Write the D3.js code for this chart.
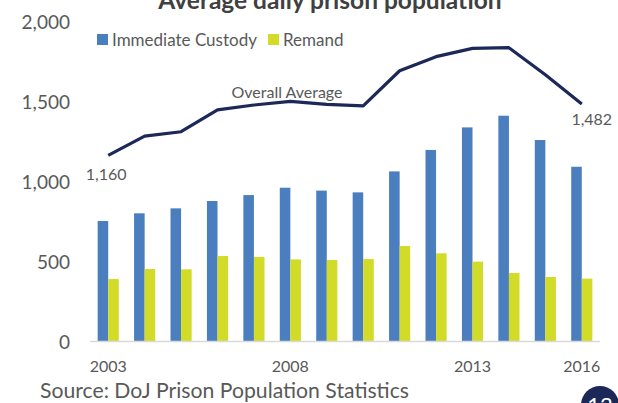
<!DOCTYPE html>
<html><head><meta charset="utf-8">
<script src="https://cdn.jsdelivr.net/npm/d3@7"></script>
<style>
html,body{margin:0;padding:0;background:#fff;}
svg{display:block;font-family:Lato,"Open Sans",sans-serif;}
</style></head>
<body>
<svg id="chart" width="618" height="403"></svg>
<script>
const years = [2003,2004,2005,2006,2007,2008,2009,2010,2011,2012,2013,2014,2015,2016];
const custody = [750,798,829,875,912,958,940,929,1060,1194,1335,1408,1256,1089];
const remand = [387,450,448,531,525,510,506,512,594,548,496,425,400,390];
const overall = [1160,1281,1308,1444,1475,1498,1479,1469,1689,1777,1829,1833,1664,1482];
const yTicks = [0,500,1000,1500,2000];
const xTickYears = [2003,2008,2013,2016];
const seriesNames = ["Immediate Custody","Remand"];
const colors = {custody:"#4a7ebf", remand:"#d2dc28", line:"#1c2858", text:"#595959"};

const svg = d3.select("#chart");
const x = d3.scaleBand().domain(years).range([90,600]).paddingInner(0.42).paddingOuter(0.21);
const xs = d3.scaleBand().domain(["c","r"]).range([0,x.bandwidth()]);
const y = d3.scaleLinear().domain([0,2000]).range([341,21]);

// bars
const g = svg.append("g");
years.forEach((yr,i)=>{
  g.append("rect").attr("x",x(yr)+xs("c")).attr("y",y(custody[i]))
   .attr("width",xs.bandwidth()).attr("height",y(0)-y(custody[i])).attr("fill",colors.custody);
  g.append("rect").attr("x",x(yr)+xs("r")).attr("y",y(remand[i]))
   .attr("width",xs.bandwidth()).attr("height",y(0)-y(remand[i])).attr("fill",colors.remand);
});

// axis line
svg.append("line").attr("x1",90).attr("x2",600).attr("y1",y(0)+0.5).attr("y2",y(0)+0.5)
  .attr("stroke","#d9d9d9").attr("stroke-width",1.5);

// y labels
svg.append("g").selectAll("text").data(yTicks).join("text")
  .attr("x",70).attr("y",d=>y(d)).attr("text-anchor","end").attr("dominant-baseline","central")
  .attr("font-size",19).attr("fill",colors.text).text(d=>d3.format(",")(d));

// x labels
svg.append("g").selectAll("text").data(xTickYears).join("text")
  .attr("x",d=>x(d)+x.bandwidth()/2).attr("y",365).attr("text-anchor","middle").attr("dominant-baseline","central")
  .attr("font-size",16).attr("fill",colors.text).text(d=>d);

// line
const line = d3.line().x((d,i)=>x(years[i])+x.bandwidth()/2).y(d=>y(d));
svg.append("path").datum(overall).attr("d",line).attr("fill","none")
  .attr("stroke",colors.line).attr("stroke-width",3.2).attr("stroke-linejoin","round");

// data labels
svg.append("text").attr("x",x(years[0])+x.bandwidth()/2-2).attr("y",y(overall[0])+18)
  .attr("text-anchor","middle").attr("dominant-baseline","central").attr("font-size",16).attr("fill",colors.text)
  .text(d3.format(",")(overall[0]));
svg.append("text").attr("x",x(years[13])+x.bandwidth()/2+10).attr("y",y(overall[13])+15)
  .attr("text-anchor","middle").attr("dominant-baseline","central").attr("font-size",16).attr("fill",colors.text)
  .text(d3.format(",")(overall[13]));
svg.append("text").attr("x",287).attr("y",91).attr("text-anchor","middle").attr("dominant-baseline","central")
  .attr("font-size",16).attr("fill",colors.text).text("Overall Average");

// title
svg.append("text").attr("x",330).attr("y",9).attr("text-anchor","middle")
  .attr("font-size",24.5).attr("font-weight","bold").attr("fill","#404040").text("Average daily prison population");

// legend
const leg = svg.append("g");
const legItems = [{n:seriesNames[0],c:colors.custody,x:97},{n:seriesNames[1],c:colors.remand,x:268}];
legItems.forEach(it=>{
  leg.append("rect").attr("x",it.x).attr("y",34).attr("width",11).attr("height",11).attr("fill",it.c);
  leg.append("text").attr("x",it.x+15).attr("y",39.5).attr("dominant-baseline","central")
    .attr("font-size",17).attr("fill",colors.text).text(it.n);
});

// source
svg.append("text").attr("x",40).attr("y",390).attr("dominant-baseline","central")
  .attr("font-size",21.2).attr("fill",colors.text).text("Source: DoJ Prison Population Statistics");

// page badge
svg.append("circle").attr("cx",600).attr("cy",405).attr("r",19).attr("fill",colors.line);
svg.append("text").attr("x",600).attr("y",404).attr("text-anchor","middle").attr("dominant-baseline","hanging")
  .attr("font-size",22).attr("fill","#fff").attr("dy","-9").text("12");
</script>
</body></html>
